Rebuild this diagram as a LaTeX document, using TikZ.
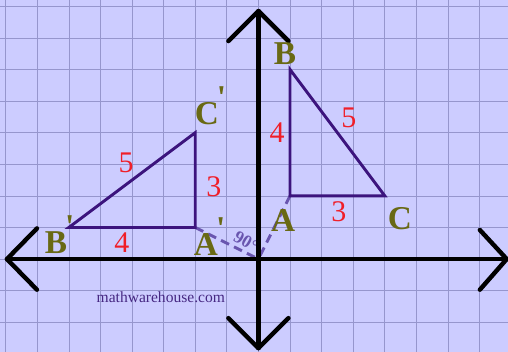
\documentclass[tikz,border=0pt]{standalone}
\usepackage{fontspec}
\setmainfont{Liberation Serif}
\usepackage{tikz}
\usetikzlibrary{calc}
\definecolor{figbg}{RGB}{204,204,255}
\definecolor{figgrid}{RGB}{150,150,205}
\definecolor{figtri}{RGB}{60,20,125}
\definecolor{figdash}{RGB}{105,85,175}
\definecolor{figlab}{RGB}{105,105,20}
\definecolor{figlen}{RGB}{240,30,40}
\definecolor{figmark}{RGB}{70,40,130}
\tikzset{
  ax/.style   ={draw=black, line width=4pt, line cap=round, line join=round},
  tri/.style  ={draw=figtri, line width=2.6pt},
  rot/.style  ={draw=figdash, line width=2.6pt, dash pattern=on 8pt off 5pt},
  lab/.style  ={text=figlab, font=\fontsize{30}{30}\selectfont\bfseries, inner sep=0pt},
  len/.style  ={text=figlen, font=\fontsize{27}{27}\selectfont, inner sep=0pt},
}
\newcommand{\pr}{\rlap{\smash{\kern-0.06em\raisebox{0.48em}{\textquotesingle}}}}

\begin{document}
\begin{tikzpicture}
  \useasboundingbox (-8.18,-2.94) rectangle (7.90,8.20);
  \fill[figbg] (-8.18,-2.94) rectangle (7.90,8.20);
  \draw[figgrid, line width=0.6pt] (-8.18,-2.94) grid (7.90,8.20);
  % points
  \coordinate (O) at (0,0);
  \coordinate (A) at (1,2);
  \coordinate (B) at (1,6);
  \coordinate (C) at (4,2);
  \coordinate (A1) at (-2,1);
  \coordinate (B1) at (-6,1);
  \coordinate (C1) at (-2,4);
  % rotation
  \draw[rot] (A) -- (O);
  \draw[rot] (A1) -- (O);
  \node[text=figdash, font=\fontsize{16}{16}\selectfont\bfseries, inner sep=0pt, rotate=-30] (ang) at (-0.39,0.55) {90°};
  % axes
  \coordinate (xl) at (-7.96,0);
  \coordinate (xr) at (7.86,0);
  \coordinate (yt) at (0,7.85);
  \coordinate (yb) at (0,-2.82);
  \draw[ax] (xl) -- (xr);
  \draw[ax] (yb) -- (yt);
  \draw[ax] ($(xl)+(0.95,0.97)$) -- (xl) -- ($(xl)+(0.95,-0.97)$);
  \draw[ax] ($(xr)+(-0.85,0.92)$) -- (xr) -- ($(xr)+(-0.85,-0.97)$);
  \draw[ax] ($(yt)+(-0.95,-0.95)$) -- (yt) -- ($(yt)+(0.95,-0.95)$);
  \draw[ax] ($(yb)+(-0.95,0.95)$) -- (yb) -- ($(yb)+(0.95,0.95)$);
  % triangles
  \draw[tri] (A) -- (B) -- (C) -- cycle;
  \draw[tri] (A1) -- (B1) -- (C1) -- cycle;
  % vertex labels
  \node[lab] (labB) at (0.84,6.49) {B};
  \node[lab] (labA) at (0.78,1.23) {A};
  \node[lab] (labC) at (4.48,1.27) {C};
  \node[lab] (labB1) at (-6.41,0.51) {B\pr};
  \node[lab] (labA1) at (-1.66,0.47) {A\pr};
  \node[lab] (labC1) at (-1.63,4.60) {C\pr};
  % side lengths
  \node[len] (sBA) at (0.59,3.99) {4};
  \node[len] (sBC) at (2.86,4.46) {5};
  \node[len] (sAC) at (2.55,1.49) {3};
  \node[len] (sB1C1) at (-4.19,3.04) {5};
  \node[len] (sA1C1) at (-1.41,2.28) {3};
  \node[len] (sA1B1) at (-4.32,0.51) {4};
  \node[text=figmark, font=\fontsize{14}{14}\selectfont, inner sep=0pt] (site) at (-3.09,-1.20) {mathwarehouse.com};
\end{tikzpicture}
\end{document}
